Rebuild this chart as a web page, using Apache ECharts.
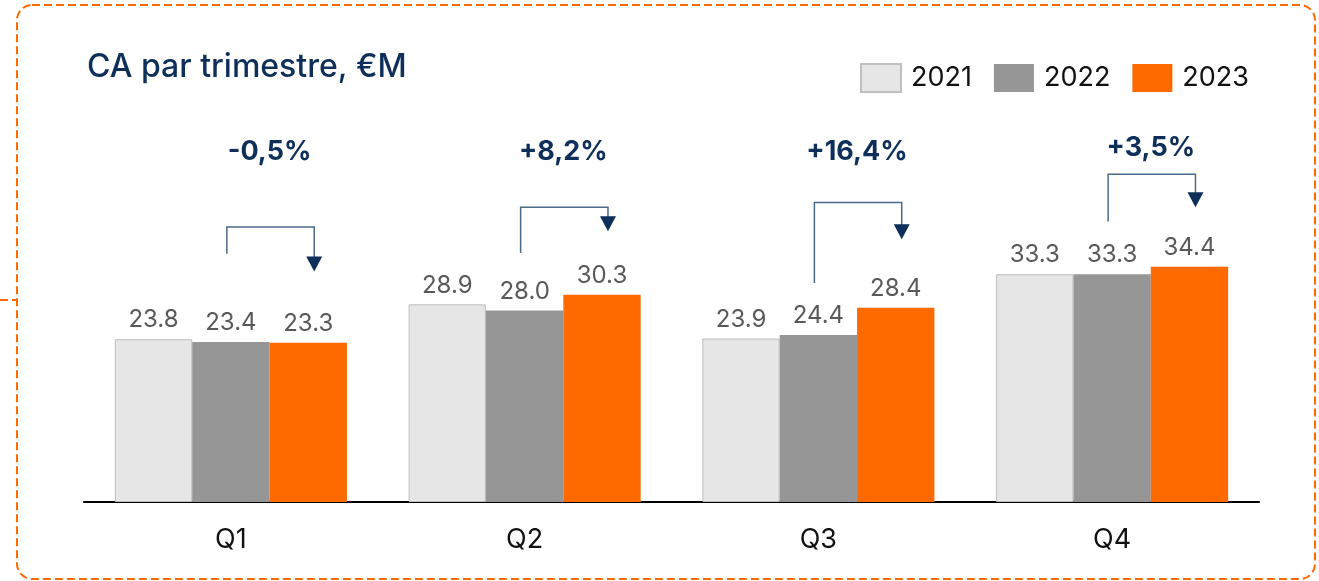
<!DOCTYPE html>
<html>
<head>
<meta charset="utf-8">
<script src="https://cdn.jsdelivr.net/npm/echarts@6/dist/echarts.min.js"></script>
<style>
html, body { margin: 0; padding: 0; background: #fff; }
#main { width: 1319px; height: 581px; }
</style>
</head>
<body>
<div id="main"></div>
<script>
// data
var quarters = ['Q1', 'Q2', 'Q3', 'Q4']
var years = ['2021', '2022', '2023']
var ca2021 = [23.8, 28.9, 23.9, 33.3]
var ca2022 = [23.4, 28.0, 24.4, 33.3]
var ca2023 = [23.3, 30.3, 28.4, 34.4]
var growthLabels = ['-0,5%', '+8,2%', '+16,4%', '+3,5%']
// bracket levels (value units): start of left leg, top bar, arrow tip, label
var bracketStart = [36.3, 36.4, 32.0, 41.0]
var bracketTop = [40.2, 43.1, 43.8, 47.9]
var bracketTip = [33.7, 39.6, 38.4, 43.1]
var growthLevel = [51.2, 51.2, 51.2, 51.8]

var navy = '#0e2f5a'
var catGap = 0.21

var chart = echarts.init(document.getElementById('main'))

var labelOpt = {
  show: true,
  position: 'top',
  distance: 7,
  color: '#595959',
  fontSize: 24,
  fontFamily: 'Inter',
  formatter: function(p) {
    return p.value.toFixed(1)
  }
}

var option = {
  animation: false,
  title: {
    text: 'CA par trimestre, €M',
    left: 82,
    top: 46,
    textStyle: {
      color: navy,
      fontSize: 32,
      fontWeight: 500,
      fontFamily: 'Inter'
    }
  },
  legend: {
    data: years,
    icon: 'rect',
    right: 65,
    top: 58,
    itemWidth: 40,
    itemHeight: 28,
    itemGap: 22,
    textStyle: {
      color: '#111',
      fontSize: 27,
      fontFamily: 'Inter',
      padding: [0, 0, 0, 5]
    }
  },
  grid: {
    left: 84,
    right: 60,
    top: 160,
    bottom: 79
  },
  xAxis: {
    type: 'category',
    data: quarters,
    axisTick: { show: false },
    axisLine: { lineStyle: { color: '#000', width: 2 } },
    axisLabel: {
      color: '#111',
      fontSize: 27,
      fontFamily: 'Inter',
      margin: 24
    }
  },
  yAxis: {
    type: 'value',
    min: 0,
    max: 50,
    show: false
  },
  graphic: [
    {
      type: 'rect',
      shape: { x: 17, y: 5, width: 1298, height: 574, r: 15 },
      style: { fill: 'none', stroke: '#ff6a00', lineWidth: 2, lineDash: [8, 4] },
      silent: true
    },
    {
      type: 'line',
      shape: { x1: 0, y1: 300, x2: 17, y2: 300 },
      style: { stroke: '#ff6a00', lineWidth: 2, lineDash: [8, 4] },
      silent: true
    }
  ],
  series: [
    {
      name: '2021',
      type: 'bar',
      data: ca2021,
      barGap: 0,
      barCategoryGap: catGap * 100 + '%',
      itemStyle: { color: '#e6e6e6', borderColor: '#bfbfbf', borderWidth: 1 },
      label: labelOpt
    },
    {
      name: '2022',
      type: 'bar',
      data: ca2022,
      itemStyle: { color: '#969696' },
      label: labelOpt
    },
    {
      name: '2023',
      type: 'bar',
      data: ca2023,
      itemStyle: { color: '#ff6a00' },
      label: labelOpt
    },
    {
      type: 'custom',
      silent: true,
      data: quarters.map(function(q, i) {
        return [i, bracketStart[i], bracketTop[i], bracketTip[i], growthLevel[i]]
      }),
      renderItem: function(params, api) {
        var i = api.value(0)
        var band = api.size([1, 0])[0]
        var bw = (band * (1 - catGap)) / 3
        var cx = api.coord([i, 0])[0]
        var xl = cx - 4
        var xr = cx + bw + 6
        var yStart = api.coord([i, api.value(1)])[1]
        var yTop = api.coord([i, api.value(2)])[1]
        var yTip = api.coord([i, api.value(3)])[1]
        var yText = api.coord([i, api.value(4)])[1]
        return {
          type: 'group',
          children: [
            {
              type: 'polyline',
              shape: { points: [[xl, yStart], [xl, yTop], [xr, yTop], [xr, yTip - 14]] },
              style: { stroke: '#4a6a8c', lineWidth: 1.5, fill: null }
            },
            {
              type: 'polygon',
              shape: { points: [[xr - 8, yTip - 15], [xr + 8, yTip - 15], [xr, yTip]] },
              style: { fill: navy }
            },
            {
              type: 'text',
              style: {
                text: growthLabels[i],
                x: cx + bw / 2,
                y: yText,
                align: 'center',
                verticalAlign: 'middle',
                fill: navy,
                fontSize: 27,
                fontWeight: 'bold',
                fontFamily: 'Inter'
              }
            }
          ]
        }
      }
    }
  ]
}

chart.setOption(option)
</script>
</body>
</html>
